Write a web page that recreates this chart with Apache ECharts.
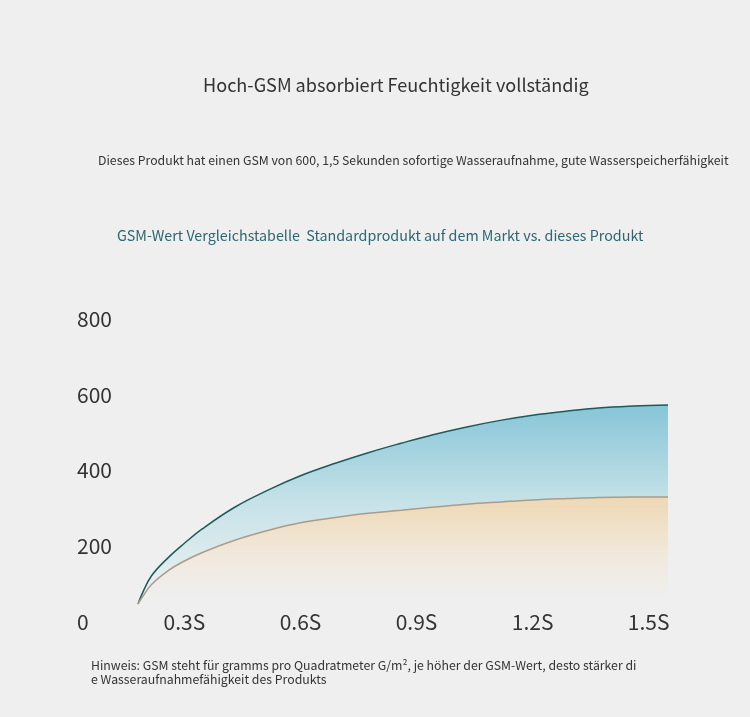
<!DOCTYPE html>
<html>
<head>
<meta charset="utf-8">
<script src="https://cdn.jsdelivr.net/npm/echarts@6/dist/echarts.min.js"></script>
<style>
    html, body { margin: 0; padding: 0; background: #efefef; }
    #chart { width: 750px; height: 717px; }
</style>
</head>
<body>
<div id="chart"></div>
<script>
// time in seconds (x)
const times = [0.18, 0.19, 0.215, 0.26, 0.30, 0.345, 0.43, 0.52, 0.60, 0.69, 0.775, 0.86, 0.94, 1.03, 1.12, 1.20, 1.29, 1.37, 1.46, 1.55]
// GSM of this product (upper curve)
const thisProduct = [47, 73, 122, 172, 208, 245, 303, 350, 386, 419, 447, 472, 494, 515, 533, 546, 557, 565, 570, 573]
// GSM of the standard product on the market (lower curve)
const standardProduct = [47, 64, 99, 137, 161, 183, 216, 243, 262, 276, 287, 295, 303, 311, 317, 322, 326, 329, 330, 330]
const xTicks = [0.3, 0.6, 0.9, 1.2, 1.5]

const font = '"Noto Sans CJK SC", "Noto Sans", sans-serif'

const toPairs = (ys) => times.map((t, i) => [t, ys[i]])

const myChart = echarts.init(document.getElementById('chart'))

const option = {
    backgroundColor: '#efefef',
    animation: false,
    title: [
        {
            text: 'Hoch-GSM absorbiert Feuchtigkeit vollständig',
            left: 203,
            top: 76,
            padding: 0,
            textStyle: {fontFamily: font, fontSize: 18.1, fontWeight: 'normal', color: '#333'}
        },
        {
            text: 'Dieses Produkt hat einen GSM von 600, 1,5 Sekunden sofortige Wasseraufnahme, gute Wasserspeicherfähigkeit',
            left: 98,
            top: 154,
            padding: 0,
            textStyle: {fontFamily: font, fontSize: 12.3, fontWeight: 'normal', color: '#333'}
        },
        {
            text: 'GSM-Wert Vergleichstabelle  Standardprodukt auf dem Markt vs. dieses Produkt',
            left: 117,
            top: 228,
            padding: 0,
            textStyle: {fontFamily: font, fontSize: 14.3, fontWeight: 'normal', color: '#2d6670'}
        },
        {
            text: 'Hinweis: GSM steht für gramms pro Quadratmeter G/m², je höher der GSM-Wert, desto stärker di\ne Wasseraufnahmefähigkeit des Produkts',
            left: 91,
            top: 658,
            padding: 0,
            textStyle: {fontFamily: font, fontSize: 12.3, fontWeight: 'normal', color: '#333', lineHeight: 14.5}
        }
    ],
    grid: {
        left: 138,
        right: 82,
        top: 319,
        bottom: 95
    },
    xAxis: {
        type: 'value',
        min: 0.18,
        max: 1.55,
        z: 10,
        axisLine: {show: false},
        axisTick: {show: false},
        splitLine: {show: false},
        axisLabel: {
            customValues: xTicks,
            formatter: (v) => v + 'S',
            margin: -10,
            fontFamily: font,
            fontSize: 21,
            color: '#333'
        }
    },
    yAxis: {
        type: 'value',
        min: 0,
        max: 800,
        interval: 200,
        z: 10,
        axisLine: {show: false},
        axisTick: {show: false},
        splitLine: {show: false},
        axisLabel: {
            align: 'left',
            margin: 61,
            fontFamily: font,
            fontSize: 21,
            color: '#333'
        }
    },
    series: [
        {
            name: 'dieses Produkt',
            type: 'line',
            data: toPairs(thisProduct),
            smooth: 0.4,
            symbol: 'none',
            lineStyle: {color: '#1d5a58', width: 1.5},
            areaStyle: {
                opacity: 1,
                color: new echarts.graphic.LinearGradient(0, 0, 0, 1, [
                    {offset: 0, color: '#86c5d7'},
                    {offset: 0.45, color: '#c6e2e8'},
                    {offset: 0.85, color: '#eaf0f1'},
                    {offset: 1, color: '#efefef'}
                ])
            },
            z: 2
        },
        {
            name: 'Standardprodukt',
            type: 'line',
            data: toPairs(standardProduct),
            smooth: 0.4,
            symbol: 'none',
            lineStyle: {color: '#a99c8b', width: 1.5},
            areaStyle: {
                opacity: 1,
                color: new echarts.graphic.LinearGradient(0, 0, 0, 1, [
                    {offset: 0, color: '#eed8b5'},
                    {offset: 0.45, color: '#f1e8db'},
                    {offset: 0.8, color: '#efefef'},
                    {offset: 1, color: '#efefef'}
                ])
            },
            z: 3
        }
    ]
}

option && myChart.setOption(option)
</script>
</body>
</html>
